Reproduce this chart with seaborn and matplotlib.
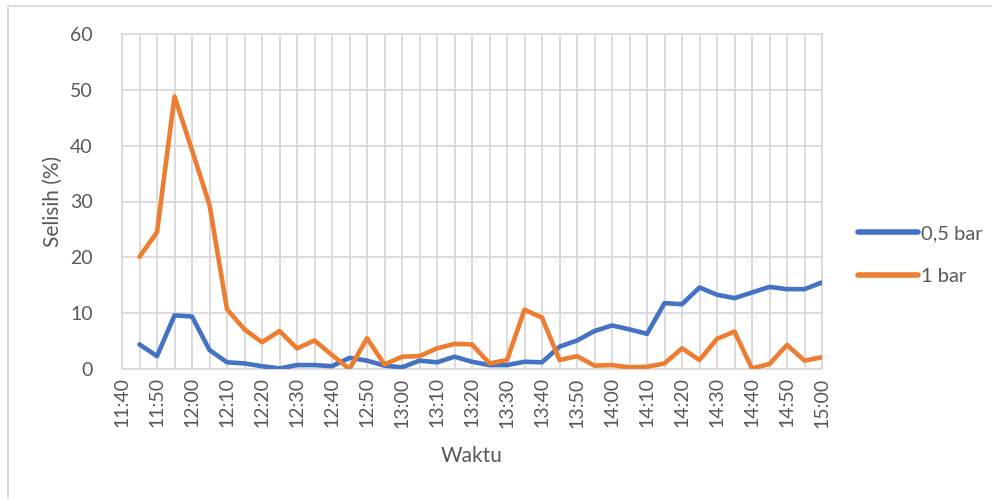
import matplotlib
matplotlib.use("Agg")
import matplotlib.pyplot as plt
from matplotlib.patches import Rectangle
import seaborn as sns
import pandas as pd

# Measurement times (every 5 minutes) and the percentage difference per pressure
times = ["11:45", "11:50", "11:55", "12:00", "12:05", "12:10", "12:15", "12:20",
         "12:25", "12:30", "12:35", "12:40", "12:45", "12:50", "12:55", "13:00",
         "13:05", "13:10", "13:15", "13:20", "13:25", "13:30", "13:35", "13:40",
         "13:45", "13:50", "13:55", "14:00", "14:05", "14:10", "14:15", "14:20",
         "14:25", "14:30", "14:35", "14:40", "14:45", "14:50", "14:55", "15:00"]
selisih_05bar = [4.4, 2.3, 9.6, 9.4, 3.4, 1.2, 1.0, 0.5, 0.1, 0.7, 0.7, 0.5,
                 2.0, 1.5, 0.6, 0.3, 1.5, 1.2, 2.2, 1.3, 0.7, 0.7, 1.3, 1.2,
                 4.0, 5.1, 6.8, 7.8, 7.1, 6.3, 11.8, 11.6, 14.6, 13.3, 12.7,
                 13.7, 14.7, 14.3, 14.3, 15.5]
selisih_1bar = [20.1, 24.5, 48.8, 39.2, 29.4, 10.7, 7.1, 4.8, 6.8, 3.7, 5.1, 2.5,
                0.0, 5.5, 0.8, 2.2, 2.3, 3.7, 4.5, 4.4, 1.0, 1.6, 10.6, 9.2,
                1.6, 2.3, 0.6, 0.7, 0.3, 0.4, 1.0, 3.7, 1.6, 5.4, 6.7, 0.1,
                0.9, 4.3, 1.5, 2.1]
series_names = ["0,5 bar", "1 bar"]
tick_labels = ["11:40", "11:50", "12:00", "12:10", "12:20", "12:30", "12:40",
               "12:50", "13:00", "13:10", "13:20", "13:30", "13:40", "13:50",
               "14:00", "14:10", "14:20", "14:30", "14:40", "14:50", "15:00"]


def to_min(t):
    h, m = t.split(":")
    return int(h) * 60 + int(m)


t0 = to_min(tick_labels[0])
minutes = [to_min(t) - t0 for t in times]

df = pd.concat([
    pd.DataFrame({"menit": minutes, "selisih": selisih_05bar, "seri": series_names[0]}),
    pd.DataFrame({"menit": minutes, "selisih": selisih_1bar, "seri": series_names[1]}),
])

sns.set_theme(style="white")
plt.rcParams["font.family"] = ["Lato", "DejaVu Sans"]
text_color = "#595959"
grid_color = "#D9D9D9"

fig = plt.figure(figsize=(9.92, 4.99), dpi=100)
ax = fig.add_axes([122 / 992, 1 - 369 / 499, 700 / 992, 335 / 499])

sns.lineplot(data=df, x="menit", y="selisih", hue="seri",
             palette=["#4472C4", "#ED7D31"], linewidth=3.3, ax=ax,
             legend=True, zorder=3)

# Axis limits and ticks
span = to_min(tick_labels[-1]) - t0
ax.set_xlim(0, span)
ax.set_ylim(0, 60)
ax.set_yticks(range(0, 61, 10))
ax.set_xticks([to_min(t) - t0 for t in tick_labels])
ax.set_xticklabels(tick_labels, rotation=90)
ax.set_xticks(range(5, span, 10), minor=True)

ax.grid(True, which="both", axis="x", color=grid_color, linewidth=1.3, zorder=0)
ax.grid(True, which="major", axis="y", color=grid_color, linewidth=1.3, zorder=0)
for side in ["top", "right", "left", "bottom"]:
    ax.spines[side].set_visible(True)
    ax.spines[side].set_color(grid_color)
    ax.spines[side].set_linewidth(1.3)

ax.tick_params(axis="both", which="both", length=0, labelsize=14,
               labelcolor=text_color)
ax.tick_params(axis="y", pad=21)
ax.tick_params(axis="x", pad=6)

ax.set_xlabel("Waktu", fontsize=15, color=text_color, labelpad=13)
ax.set_ylabel("Selisih (%)", fontsize=15, color=text_color, labelpad=5)

leg = ax.legend(title=None, loc="center left", bbox_to_anchor=(1.04, 0.34),
                frameon=False, fontsize=14.5, handlelength=3.0,
                handletextpad=0.15, labelspacing=1.25, borderaxespad=0)
for txt in leg.get_texts():
    txt.set_color(text_color)
for line in leg.get_lines():
    line.set_linewidth(4)
    line.set_solid_capstyle("round")

# Chart area border
fig.patches.append(Rectangle((8 / 992, -0.1), 1.2, 1 - 6 / 499 + 0.1,
                             transform=fig.transFigure, fill=False,
                             edgecolor=grid_color, linewidth=1.3))

fig.savefig("out.png", dpi=100)
